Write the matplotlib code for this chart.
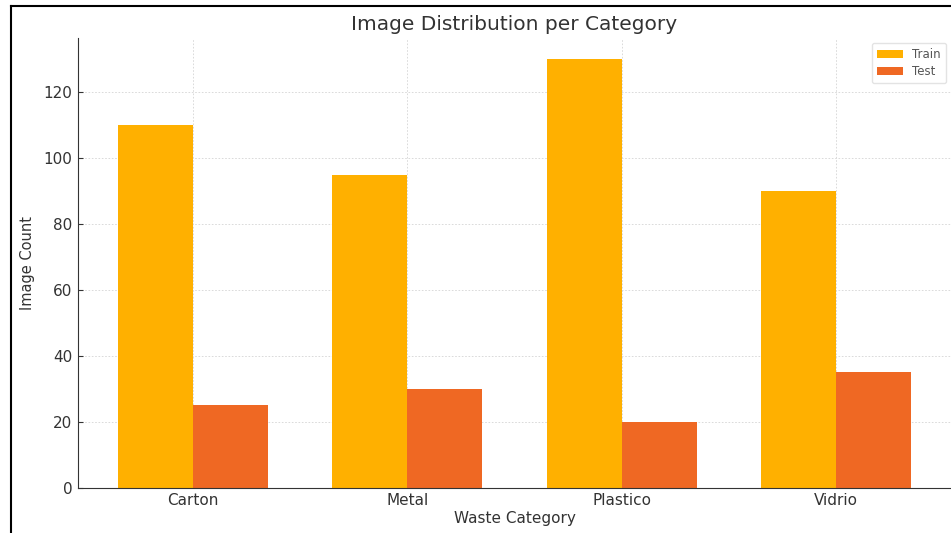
import numpy as np
import matplotlib.pyplot as plt
from matplotlib.lines import Line2D

categories = ['Carton', 'Metal', 'Plastico', 'Vidrio']
train_counts = [110, 95, 130, 90]
test_counts = [25, 30, 20, 35]

train_color = '#FFB000'
test_color = '#EF6823'
text_color = '#333333'

x = np.arange(len(categories))
width = 0.35

fig = plt.figure(figsize=(9.51, 5.33), dpi=100)
ax = fig.add_axes([0.082, 0.085, 0.918, 0.844])

ax.bar(x - width / 2, train_counts, width, label='Train', color=train_color, zorder=2)
ax.bar(x + width / 2, test_counts, width, label='Test', color=test_color, zorder=2)

ax.set_xticks(x)
ax.set_xticklabels(categories)
ax.set_yticks([0, 20, 40, 60, 80, 100, 120])
ax.tick_params(colors=text_color, labelsize=11, length=3.5, direction='in', pad=4)

ax.set_title('Image Distribution per Category', fontsize=14.5, color=text_color, pad=6)
ax.set_xlabel('Waste Category', fontsize=11, color=text_color, labelpad=2)
ax.set_ylabel('Image Count', fontsize=10.5, color=text_color, labelpad=6)

ax.grid(True, linestyle=(0, (2, 2)), linewidth=0.6, color='#d5d5d5', zorder=0)
ax.set_axisbelow(True)
for side in ['top', 'right']:
    ax.spines[side].set_visible(False)
for side in ['left', 'bottom']:
    ax.spines[side].set_color('#333333')

leg = ax.legend(loc='upper right', fontsize=8.5, frameon=True, handlelength=2.2,
                borderpad=0.45, labelspacing=0.35, borderaxespad=0.4)
leg.get_frame().set_edgecolor('#dddddd')
for t in leg.get_texts():
    t.set_color('#555555')

# рамка скриншота (слева и сверху)
top_y = 1 - 5.5 / 533
left_x = 10.5 / 951
fig.add_artist(Line2D([left_x, left_x], [0, top_y], color='black', linewidth=1.5,
                      transform=fig.transFigure))
fig.add_artist(Line2D([left_x, 1], [top_y, top_y], color='black', linewidth=1.5,
                      transform=fig.transFigure))

fig.savefig('out.png', dpi=100)
